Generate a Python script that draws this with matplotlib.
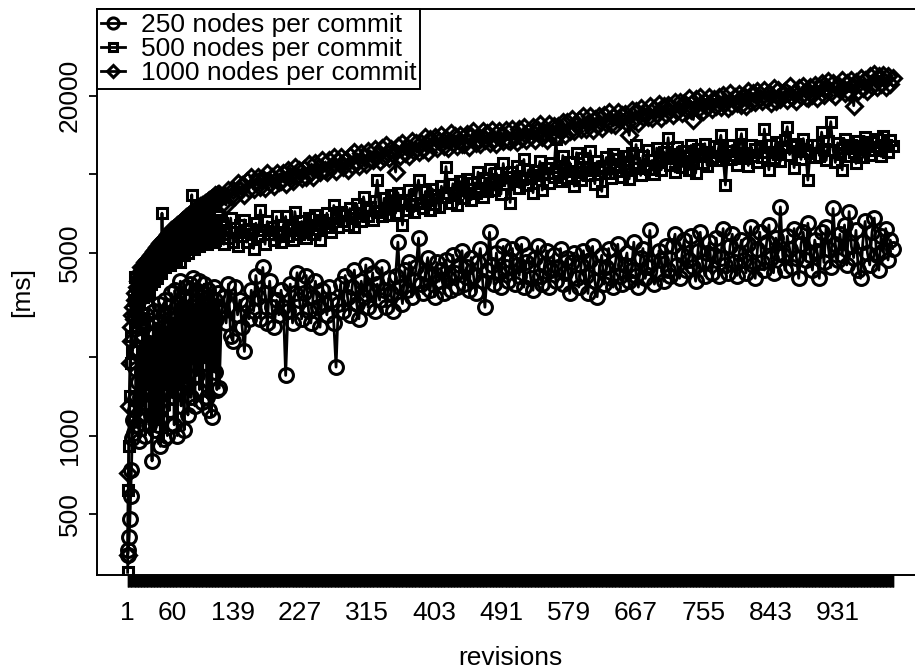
import matplotlib
matplotlib.use("Agg")
import matplotlib.pyplot as plt

plt.rcParams.update({'font.size': 19, 'font.family': ['Liberation Sans', 'DejaVu Sans']})

# revisions on the x axis (every revision up to 120, every 3rd afterwards)
revs = list(range(1, 121)) + list(range(121, 1004, 3))
n_revs = 1004
xtick_labels = [1, 60, 139, 227, 315, 403, 491, 579, 667, 755, 843, 931]
ytick_vals = [500, 1000, 2000, 5000, 10000, 20000]
ytick_text = ['500', '1000', '', '5000', '', '20000']

# commit times in ms, 250 nodes per commit
t250 = [350, 365, 410, 480, 590, 740, 980, 1150, 1020, 1380,
        1250, 1800, 1100, 2150, 1600, 950, 1400, 2300, 1200, 1750,
        2600, 1300, 1900, 1000, 2900, 1500, 2200, 3100, 1100, 1700,
        2400, 1200, 800, 2000, 3000, 1400, 1050, 2700, 1800, 2300,
        1100, 3200, 1600, 910, 2500, 1300, 2900, 970, 2100, 3300,
        1500, 2600, 1000, 1900, 3100, 1250, 2300, 3500, 1400, 2000,
        2800, 1100, 3600, 1700, 2400, 1000, 3200, 1500, 2700, 3900,
        1300, 2200, 3400, 1800, 1050, 2900, 3700, 1600, 2500, 1200,
        3300, 2000, 3800, 1400, 2600, 4000, 1900, 3100, 1300, 2800,
        3600, 1700, 2400, 3900, 1500, 3000, 2200, 3500, 1350, 2700,
        3800, 1900, 3200, 2500, 1400, 3600, 2900, 1250, 3400, 2100,
        1180, 3000, 2600, 3700, 1750, 3300, 2800, 1500, 3500, 3100,
        # rev 121 .. (every 3rd)
        1520, 3000, 3400, 2700, 3800, 2400, 2300,
        3700, 2900, 3300, 2600, 2100, 3200, 2800, 3600, 3000, 4100,
        3400, 2800, 4400, 3500, 2700, 3900, 3100, 2600, 3300, 2900,
        3600, 3100, 1700, 3000, 3800, 2700, 3500, 4200, 3300, 2800,
        3500, 4100, 3000, 2700, 3400, 3900, 3100, 2600, 3600, 3200,
        2900, 3700, 3300, 2700, 1830, 3200, 3800, 3000, 4100, 3400,
        2900, 3700, 4300, 3200, 2800, 3900, 3400, 4500, 3100, 3600,
        4200, 3000, 3800, 3300, 4400, 3600, 3100, 4000, 3500, 3000,
        4100, 5500, 3700, 3200, 4300, 3600, 4600, 3400, 3900, 4400,
        5700, 3800, 3500, 4200, 4800, 3600, 4100, 3400, 4600, 3900,
        4300, 3500, 4700, 4000, 3600, 4900, 4200, 3700, 4500, 5100,
        3800, 4400, 3600, 4800, 4100, 3500, 4600, 5200, 3900, 3100,
        4300, 6000, 4500, 3800, 5000, 4200, 3700, 5300, 4400, 3900,
        4700, 5200, 3800, 4500, 4100, 5400, 3700, 4600, 4900, 4000,
        3600, 4800, 5300, 4100, 3800, 4500, 5100, 3700, 4300, 4900,
        3900, 4400, 5200, 3800, 4200, 4800, 3500, 4600, 5000, 4000,
        3700, 4500, 5100, 4100, 3500, 4700, 5300, 3900, 3400, 4400,
        4900, 3800, 4400, 5200, 4000, 3700, 4600, 5400, 4100, 3800,
        4500, 5000, 3900, 4300, 5500, 4100, 3700, 4800, 5200, 4000,
        4400, 6100, 4600, 3800, 4200, 5100, 4700, 3900, 5300, 4300,
        4100, 5300, 5900, 4500, 4000, 4900, 5600, 4300, 4700, 5800,
        4400, 3900, 5100, 6000, 4600, 4100, 5000, 5500, 4200, 4900,
        5700, 4100, 4800, 6200, 4500, 4200, 5300, 5900, 4600, 4100,
        5000, 5600, 4700, 4200, 5400, 6300, 4500, 4000, 5200, 6000,
        4600, 4300, 5500, 6400, 4800, 4200, 5700, 5000, 7500, 4900,
        4300, 5800, 5200, 4400, 6200, 4800, 4000, 5400, 6000, 4700,
        6500, 4900, 4300, 5600, 5100, 4000, 6000, 4600, 6300, 5200,
        4400, 7400, 5400, 4700, 5900, 4900, 6400, 4500, 7200, 5300,
        4800, 6100, 4300, 4000, 5500, 6600, 5000, 4500, 6000, 6800,
        4900, 4300, 5800, 5100, 6200, 4700, 5600, 5200]

# 500 nodes per commit
t500 = [300, 620, 910, 1420, 1900, 2400, 2100, 2900, 3300, 4060,
        2600, 3000, 3400, 2800, 3600, 3200, 3900, 3500, 4200, 3700,
        3400, 4000, 3700, 4300, 3600, 4600, 3900, 4200, 3500, 4700,
        4100, 3800, 4500, 4900, 3900, 4400, 5000, 4200, 4700, 4000,
        4600, 5100, 4300, 4800, 4200, 7100, 5000, 4500, 5300, 4400,
        5200, 4700, 5500, 4600, 5000, 5700, 4500, 5300, 4900, 5600,
        4800, 5400, 5000, 5800, 4700, 5300, 5900, 5100, 4600, 5500,
        5800, 5000, 5400, 6000, 4900, 5600, 5200, 6100, 5400, 5000,
        5700, 6200, 5300, 5800, 8350, 5500, 6000, 5200, 5900, 6300,
        5400, 6000, 5600, 6400, 5300, 5900, 6100, 5500, 6500, 5800,
        5600, 6200, 5900, 6600, 5400, 6100, 6800, 5700, 6300, 6000,
        5500, 6400, 6200, 5800, 6700, 5600, 6300, 6000, 6900, 5700,
        # rev 121 .. (every 3rd)
        5900, 6500, 5400, 6100, 5700, 6800, 5500,
        6000, 5300, 6400, 5800, 6700, 5500, 6200, 5900, 5200, 6500,
        5800, 7300, 6100, 5400, 6600, 5900, 6300, 5600, 6900, 6000,
        5500, 6400, 6900, 5800, 6200, 5600, 7200, 6300, 5900, 6600,
        6100, 5700, 6800, 6400, 5900, 7000, 6200, 5600, 6700, 6300,
        7100, 6500, 6000, 7600, 6800, 6300, 7200, 6600, 7000, 6400,
        7400, 6800, 6300, 7700, 7100, 6600, 8200, 7300, 6900, 7500,
        6700, 7900, 9500, 7200, 6900, 8100, 7400, 7000, 8300, 7600,
        7100, 8500, 7800, 6400, 8000, 7300, 8700, 7600, 7200, 8400,
        9500, 7800, 7400, 8600, 8000, 7300, 8800, 7700, 8300, 7500,
        9000, 8200, 10700, 8500, 7800, 9200, 8400, 7600, 9400, 8700,
        8100, 9600, 8800, 8000, 9300, 8500, 10200, 8900, 8200, 9700,
        8600, 10500, 9300, 8700, 10100, 9500, 8400, 11000, 9200, 9800,
        7800, 10200, 9400, 10800, 8900, 9600, 11400, 9100, 10400, 9700,
        8500, 10300, 9900, 11200, 8700, 10000, 10600, 9300, 11000, 9800,
        13600, 10100, 9400, 11800, 10500, 9700, 11100, 10300, 9000, 12100,
        10200, 9500, 11500, 10700, 9900, 12300, 10400, 9200, 11200, 10600,
        8600, 10800, 11600, 10100, 9700, 12000, 10900, 11400, 10300, 9800,
        11700, 10400, 9600, 12100, 11000, 13000, 10600, 9900, 11800, 10800,
        12400, 10500, 11300, 10000, 12600, 11100, 10400, 12200, 11500, 13800,
        10900, 12000, 10200, 12700, 11400, 10700, 12300, 11600, 10400, 12900,
        11200, 10100, 12500, 11800, 11000, 13100, 10800, 12200, 11600, 12800,
        11300, 12600, 14100, 11700, 9100, 12300, 11400, 12900, 11900, 10900,
        12700, 14300, 11500, 12100, 10800, 13000, 11800, 12500, 11100, 12800,
        11600, 14900, 12200, 10400, 12900, 11500, 13300, 12000, 11200, 12700,
        13500, 15200, 11900, 12800, 10600, 13100, 12300, 11400, 13700, 12400,
        9500, 12100, 13000, 11600, 12900, 11800, 14500, 12500, 11300, 13400,
        15900, 12400, 11100, 13200, 12000, 10400, 13600, 12600, 11800, 13000,
        12200, 11000, 13400, 12500, 11600, 13900, 12800, 11900, 13300, 12400,
        13600, 12700, 11700, 14000, 12900, 12200, 13500, 12800]

# 1000 nodes per commit
t1000 = [350, 720, 1300, 1900, 2300, 2600, 2900, 3100, 2800, 3300,
         3500, 3200, 3700, 3900, 3600, 4000, 4200, 3900, 4400, 4300,
         4200, 4450, 4350, 4600, 4400, 4700, 4500, 4750, 4550, 4800,
         4600, 4900, 4700, 5000, 4750, 5100, 4850, 5200, 4950, 5250,
         5000, 5350, 5100, 5450, 5200, 5550, 5300, 5650, 5350, 5700,
         5450, 5800, 5550, 5900, 5600, 6000, 5700, 6100, 5750, 6150,
         5850, 6250, 5950, 6300, 6000, 6400, 6100, 6450, 6150, 6500,
         6250, 6600, 6300, 6700, 6400, 6750, 6450, 6850, 6500, 6900,
         6600, 7000, 6700, 7100, 6750, 7150, 6850, 7250, 6900, 7300,
         7000, 7400, 7050, 7450, 7100, 7550, 7200, 7600, 7250, 7650,
         7350, 7750, 7400, 7800, 7450, 7900, 7550, 7950, 7600, 8050,
         7700, 8100, 7750, 8200, 7850, 8300, 7900, 8350, 8000, 8400,
         # rev 121 .. (every 3rd)
         8370, 7680, 8340, 7630, 8710, 8230, 8670,
         8270, 9290, 8720, 9140, 8300, 9430, 8760, 9730, 8770, 9380,
         9770, 8960, 9560, 8840, 10090, 9280, 9790, 9050, 10140, 9310,
         9410, 10130, 9200, 10420, 9880, 9420, 10670, 9810, 10360, 9700,
         10510, 9750, 10930, 10160, 9790, 11000, 10530, 10170, 11380, 10380,
         10170, 11300, 10700, 11630, 10260, 11200, 11690, 10650, 11250, 10420,
         11750, 10880, 12170, 11170, 10740, 12040, 11620, 10950, 12260, 11480,
         11330, 12550, 11890, 11210, 12580, 11660, 12910, 11500, 12520, 11960,
         10200, 12820, 11750, 13140, 12060, 12720, 11750, 13410, 12320, 13230,
         12160, 13230, 12500, 13840, 12200, 13670, 12940, 13900, 12630, 13460,
         14100, 12790, 13610, 12570, 14330, 13140, 13970, 12790, 14150, 13100,
         13100, 14210, 12760, 14010, 14580, 13120, 13700, 13040, 14600, 13520,
         14350, 13130, 14810, 13590, 13060, 14610, 14070, 13400, 14820, 13580,
         13440, 14870, 13930, 13250, 14840, 13740, 15190, 13520, 14560, 14010,
         15120, 13560, 14760, 15520, 13950, 14570, 13580, 15510, 14230, 15290,
         14060, 15310, 14610, 15870, 14120, 15830, 14680, 16250, 14630, 15450,
         16120, 14920, 16680, 14850, 15680, 16660, 14820, 16280, 15380, 16700,
         15040, 16840, 15770, 17260, 15530, 16540, 15460, 17290, 16200, 16890,
         17000, 15710, 14100, 17630, 16180, 17390, 15760, 17990, 16520, 17240,
         16510, 18270, 16430, 17850, 17030, 18640, 16420, 18210, 17030, 18480,
         18160, 16790, 18980, 17430, 18920, 17180, 18670, 17830, 19520, 17570,
         16200, 19360, 17750, 19830, 17470, 18990, 18110, 19830, 17820, 19360,
         18330, 19690, 18020, 20140, 18840, 17930, 20440, 18360, 19750, 18820,
         20370, 18460, 19860, 18330, 20900, 18980, 20380, 18840, 20850, 19500,
         19010, 21020, 19470, 20500, 18730, 21370, 19000, 21030, 19470, 20500,
         20810, 19220, 21690, 19690, 20530, 19150, 21420, 20020, 21700, 19680,
         19570, 21490, 20090, 22020, 19570, 21300, 22400, 20150, 21670, 22800,
         20560, 22300, 20010, 21970, 20950, 22920, 20400, 22370, 20700, 22900,
         18300, 22520, 20810, 23290, 21360, 22960, 20800, 23740, 21800, 24200,
         21600, 23700, 22190, 24070, 21650, 23770, 22240, 23460]

W, H = 915, 671
fig = plt.figure(figsize=(W / 100, H / 100), dpi=100)
# plot box: left 97px, top 9px, bottom 575px, right edge just past the image
ax = fig.add_axes([97 / W, 1 - 575 / H, (924 - 97) / W, (575 - 9) / H])

style = dict(color='black', lw=2.0, mfc='none', mew=2.2)
ax.plot(revs, t250, marker='o', ms=10, label='250 nodes per commit', **style)
ax.plot(revs, t500, marker='s', ms=7, label='500 nodes per commit', **style)
ax.plot(revs, t1000, marker='D', ms=8, label='1000 nodes per commit', **style)

ax.set_yscale('log')
ax.set_ylim(293, 42900)
ext = 0.04 * (n_revs - 1)
ax.set_xlim(1 - ext, n_revs + ext)

# a tick for every revision -> solid bar under the axis, labels only on some
ax.set_xticks(range(1, n_revs + 1), minor=True)
ax.set_xticks(xtick_labels)
ax.set_xticklabels([str(v) for v in xtick_labels])
ax.tick_params(axis='x', which='both', direction='out', length=8.6, width=1.0, pad=10)

ax.set_yticks(ytick_vals)
ax.set_yticklabels(ytick_text, rotation=90, va='center')
ax.yaxis.set_minor_locator(matplotlib.ticker.NullLocator())
ax.tick_params(axis='y', direction='out', length=6, width=1.3, pad=5)

for s in ax.spines.values():
    s.set_linewidth(1.4)

ax.set_xlabel('revisions', labelpad=15)
ax.set_ylabel('[ms]', labelpad=17)

leg = ax.legend(loc='upper left', borderaxespad=0, fancybox=False, edgecolor='black',
                framealpha=1, handlelength=0.9, handletextpad=0.6, labelspacing=0.0,
                borderpad=0.15, markerscale=0.8)
leg.get_frame().set_linewidth(1.4)

fig.savefig('out.png', dpi=100)
